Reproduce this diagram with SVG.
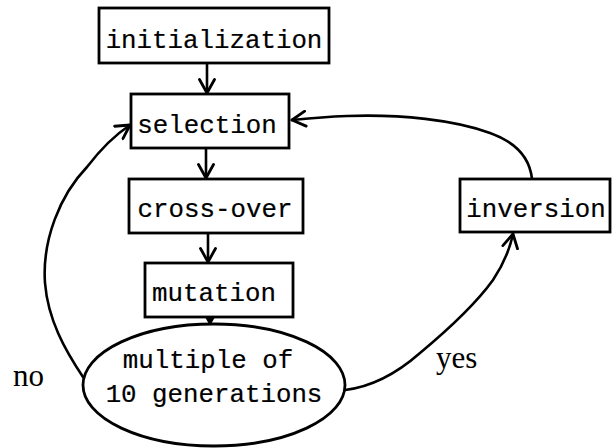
<svg xmlns="http://www.w3.org/2000/svg" width="614" height="448" viewBox="0 0 614 448">
  <style>
    .box { fill: #fff; stroke: #000; stroke-width: 2.8; }
    .lbl { font-family: "Liberation Mono", "DejaVu Sans Mono", monospace; font-size: 25.8px; fill: #000; text-anchor: middle; stroke: #000; stroke-width: 0.2; }
    .side { font-family: "Liberation Serif", "DejaVu Serif", serif; font-size: 31px; fill: #000; }
    .edge { fill: none; stroke: #000; stroke-width: 2.6; stroke-linecap: round; marker-end: url(#arrow); }
  </style>
  <defs>
    <marker id="arrow" markerUnits="userSpaceOnUse" markerWidth="18" markerHeight="18" viewBox="0 0 18 18" refX="15" refY="9" orient="auto">
      <path d="M1.5,1.5 L15,9 L1.5,16.5" fill="none" stroke="#000" stroke-width="2.8" stroke-linecap="round" stroke-linejoin="round"/>
    </marker>
  </defs>
  <rect width="614" height="448" fill="#fff"/>

  <g id="connectors">
    <path class="edge" d="M207,63 L207,93"/>
    <path class="edge" d="M206,148 L206,178"/>
    <path class="edge" d="M208,233 L208,262"/>
    <path class="edge" d="M210,317 L210,323"/>
    <!-- no: back to selection -->
    <path class="edge" d="M83,377 C65,350 48,320 45,283 C42,240 60,195 87,167 C100,150 115,135 130,125"/>
    <!-- yes: to inversion -->
    <path class="edge" d="M345,390 C370,387 395,375 420,353 C450,328 475,305 493,280 C503,265 510,248 513,234"/>
    <!-- inversion back to selection -->
    <path class="edge" d="M532,179 C530,160 518,143 490,133 C455,120 400,114 347,116 C320,117 302,119 292,120"/>
  </g>

  <g id="initialization">
    <rect class="box" x="99" y="8" width="230" height="55"/>
    <text class="lbl" x="214" y="48">initialization</text>
  </g>
  <g id="selection">
    <rect class="box" x="131" y="94" width="158" height="54"/>
    <text class="lbl" x="207" y="133">selection</text>
  </g>
  <g id="cross-over">
    <rect class="box" x="129" y="179" width="174" height="54"/>
    <text class="lbl" x="215" y="217">cross-over</text>
  </g>
  <g id="mutation">
    <rect class="box" x="145" y="263" width="148" height="54"/>
    <text class="lbl" x="214" y="301">mutation</text>
  </g>
  <g id="inversion">
    <rect class="box" x="460" y="179" width="150" height="53"/>
    <text class="lbl" x="536" y="217">inversion</text>
  </g>
  <g id="decision">
    <ellipse class="box" cx="214" cy="385" rx="131" ry="61"/>
    <text class="lbl" x="208" y="368">multiple of</text>
    <text class="lbl" x="214" y="402">10 generations</text>
  </g>

  <g id="edge-labels">
    <text class="side" x="13" y="386">no</text>
    <text class="side" x="436" y="368">yes</text>
  </g>
</svg>
